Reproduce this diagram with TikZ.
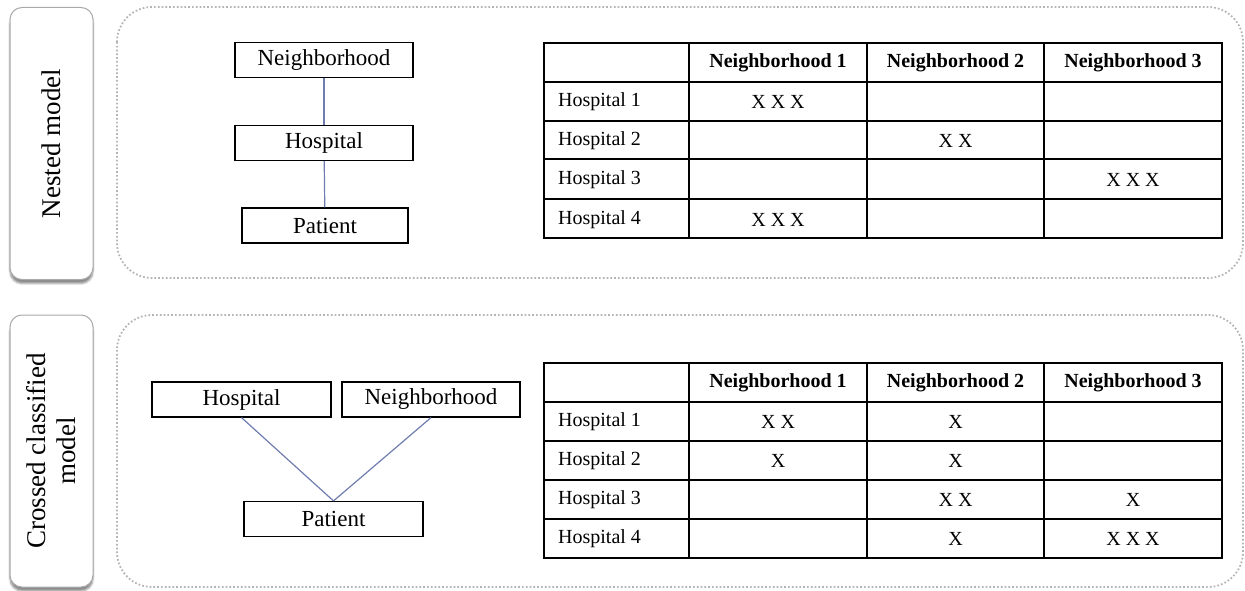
\documentclass[tikz,border=0pt]{standalone}
\usepackage{fontspec}
\setmainfont{Liberation Serif}
\usetikzlibrary{shadows.blur}
\definecolor{linkblue}{RGB}{110,125,175}
\definecolor{dotgray}{RGB}{180,180,180}
\definecolor{labgray}{RGB}{170,170,170}
\begin{document}
\begin{tikzpicture}[x=1pt,y=-1pt,
  panel/.style={draw=dotgray, line width=1.8pt, dash pattern=on 1.7pt off 2.1pt, rounded corners=35pt},
  sidelabel/.style={draw=labgray, line width=1pt, fill=white, rounded corners=12pt, rotate=90,
    minimum width=272pt, minimum height=83pt, align=center, inner sep=0pt,
    font=\fontsize{27}{30}\selectfont,
    blur shadow={shadow xshift=0pt, shadow yshift=-4pt, shadow opacity=45}},
  box/.style={draw=black, line width=1.2pt, fill=white, minimum height=35pt, inner sep=0pt,
    font=\fontsize{23}{26}\selectfont},
  link/.style={draw=linkblue, line width=1.2pt},
  grid/.style={draw=black, line width=1.6pt, line cap=square},
  rowlab/.style={anchor=west, font=\fontsize{20}{24}\selectfont, inner sep=0pt},
  cell/.style={font=\fontsize{20}{24}\selectfont, inner sep=0pt},
  head/.style={font=\fontsize{20}{24}\selectfont\bfseries, inner sep=0pt},
]
\useasboundingbox (0,0) rectangle (1245,591);

% panels
\draw[panel] (117,7) rectangle (1243,278);
\draw[panel] (117,315) rectangle (1243,587);

% side labels
\node[sidelabel] (lab1) at (51.5,143.5) {Nested model};
\node[sidelabel] (lab2) at (51.5,451) {Crossed classified\\model};

% nested diagram
\node[box, minimum width=178pt] (nN) at (324,60) {Neighborhood};
\node[box, minimum width=178pt] (nH) at (324,143) {Hospital};
\node[box, minimum width=166pt] (nP) at (325,225.5) {Patient};
\draw[link] (nN) -- (nH);
\draw[link] (nH) -- (nP);

% crossed diagram
\node[box, minimum width=179pt] (cH) at (241.5,399.5) {Hospital};
\node[box, minimum width=178pt] (cN) at (431,399.5) {Neighborhood};
\node[box, minimum width=179pt] (cP) at (333.5,519) {Patient};
\draw[link] (cH.south) -- (cP.north);
\draw[link] (cN.south) -- (cP.north);

% top table
\foreach \y in {82,121,159,199} \draw[grid] (544,\y) -- (1222,\y);
\foreach \x in {689,867,1044} \draw[grid] (\x,43) -- (\x,238);
\draw[grid] (544,43) rectangle (1222,238);
\node[head] (ta1) at (778,63) {Neighborhood 1};
\node[head] (ta2) at (955.5,63) {Neighborhood 2};
\node[head] (ta3) at (1133,63) {Neighborhood 3};
\node[rowlab] (tr1) at (558,102) {Hospital 1};
\node[rowlab] (tr2) at (558,141) {Hospital 2};
\node[rowlab] (tr3) at (558,180) {Hospital 3};
\node[rowlab] (tr4) at (558,219.5) {Hospital 4};
\node[cell] (tx11) at (778,102) {X X X};
\node[cell] (tx22) at (955.5,141) {X X};
\node[cell] (tx33) at (1133,180) {X X X};
\node[cell] (tx41) at (778,219.5) {X X X};

% bottom table
\foreach \y in {402,441,480,519} \draw[grid] (544,\y) -- (1222,\y);
\foreach \x in {689,867,1044} \draw[grid] (\x,363) -- (\x,558);
\draw[grid] (544,363) rectangle (1222,558);
\node[head] (ba1) at (778,383) {Neighborhood 1};
\node[head] (ba2) at (955.5,383) {Neighborhood 2};
\node[head] (ba3) at (1133,383) {Neighborhood 3};
\node[rowlab] (br1) at (558,422) {Hospital 1};
\node[rowlab] (br2) at (558,461) {Hospital 2};
\node[rowlab] (br3) at (558,500) {Hospital 3};
\node[rowlab] (br4) at (558,539) {Hospital 4};
\node[cell] (bx11) at (778,422) {X X};
\node[cell] (bx12) at (955.5,422) {X};
\node[cell] (bx21) at (778,461) {X};
\node[cell] (bx22) at (955.5,461) {X};
\node[cell] (bx32) at (955.5,500) {X X};
\node[cell] (bx33) at (1133,500) {X};
\node[cell] (bx42) at (955.5,539) {X};
\node[cell] (bx43) at (1133,539) {X X X};
\end{tikzpicture}
\end{document}
